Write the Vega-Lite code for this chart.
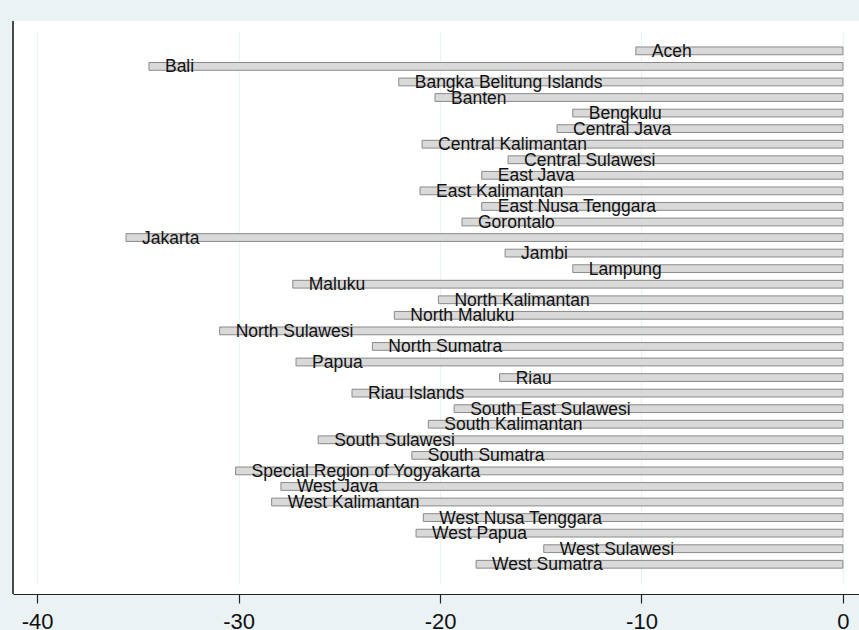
{
  "$schema": "https://vega.github.io/schema/vega-lite/v6.json",
  "width": 846,
  "height": 573,
  "autosize": {"type": "none"},
  "padding": {"left": 13, "top": 21, "right": 0, "bottom": 36},
  "background": "#eaf2f3",
  "config": {
    "view": {"fill": "white", "stroke": null},
    "font": "Liberation Sans"
  },
  "data": {
    "values": [
      {"province": "Aceh", "value": -10.28},
      {"province": "Bali", "value": -34.45},
      {"province": "Bangka Belitung Islands", "value": -22.05},
      {"province": "Banten", "value": -20.25},
      {"province": "Bengkulu", "value": -13.41},
      {"province": "Central Java", "value": -14.19},
      {"province": "Central Kalimantan", "value": -20.89},
      {"province": "Central Sulawesi", "value": -16.62},
      {"province": "East Java", "value": -17.93},
      {"province": "East Kalimantan", "value": -20.99},
      {"province": "East Nusa Tenggara", "value": -17.93},
      {"province": "Gorontalo", "value": -18.91},
      {"province": "Jakarta", "value": -35.59},
      {"province": "Jambi", "value": -16.77},
      {"province": "Lampung", "value": -13.41},
      {"province": "Maluku", "value": -27.31},
      {"province": "North Kalimantan", "value": -20.08},
      {"province": "North Maluku", "value": -22.27},
      {"province": "North Sulawesi", "value": -30.94},
      {"province": "North Sumatra", "value": -23.36},
      {"province": "Papua", "value": -27.15},
      {"province": "Riau", "value": -17.04},
      {"province": "Riau Islands", "value": -24.37},
      {"province": "South East Sulawesi", "value": -19.30},
      {"province": "South Kalimantan", "value": -20.58},
      {"province": "South Sulawesi", "value": -26.05},
      {"province": "South Sumatra", "value": -21.40},
      {"province": "Special Region of Yogyakarta", "value": -30.15},
      {"province": "West Java", "value": -27.90},
      {"province": "West Kalimantan", "value": -28.36},
      {"province": "West Nusa Tenggara", "value": -20.83},
      {"province": "West Papua", "value": -21.19},
      {"province": "West Sulawesi", "value": -14.85},
      {"province": "West Sumatra", "value": -18.21}
    ]
  },
  "layer": [
    {
      "mark": {"type": "bar", "fill": "#d9d9d9", "stroke": "#8a8a8a", "strokeWidth": 1},
      "encoding": {
        "y": {
          "field": "province",
          "type": "nominal",
          "sort": null,
          "scale": {"paddingInner": 0.5, "paddingOuter": 1, "range": [10.4, 562.7]},
          "axis": {"title": null, "labels": false, "ticks": false, "grid": false, "domain": false}
        },
        "x": {
          "field": "value",
          "type": "quantitative",
          "scale": {"domain": [-41.2, 0.8], "nice": false, "zero": false},
          "axis": {
            "title": null,
            "values": [-40, -30, -20, -10, 0],
            "labelExpr": "'' + datum.value",
            "grid": true,
            "gridColor": "#eaf2f3",
            "gridWidth": 1.2,
            "domainColor": "#222222",
            "domainWidth": 1.2,
            "tickColor": "#222222",
            "tickSize": 9,
            "tickWidth": 1.2,
            "labelFontSize": 22,
            "labelColor": "#111111",
            "labelPadding": 8,
            "labelFont": "Liberation Sans"
          }
        },
        "x2": {"datum": 0}
      }
    },
    {
      "mark": {"type": "rule", "color": "#4a4a4a", "strokeWidth": 1.5},
      "encoding": {
        "x": {"datum": -41.2}
      }
    },
    {
      "mark": {"type": "text", "align": "left", "baseline": "middle", "dx": 16, "dy": 1, "fontSize": 17.5, "color": "#111111"},
      "encoding": {
        "y": {"field": "province", "type": "nominal", "sort": null},
        "x": {"field": "value", "type": "quantitative"},
        "text": {"field": "province"}
      }
    }
  ]
}
